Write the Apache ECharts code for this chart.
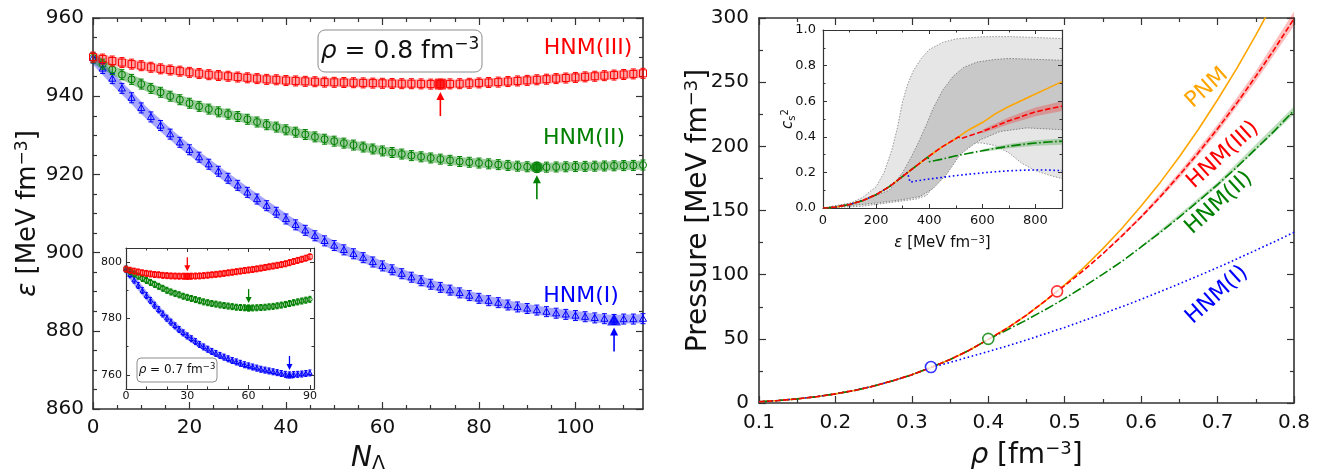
<!DOCTYPE html>
<html><head><meta charset="utf-8">
<script src="https://cdn.jsdelivr.net/npm/echarts@6/dist/echarts.min.js"></script>
<style>html,body{margin:0;padding:0;background:#fff}#c{width:1322px;height:470px}</style>
</head><body><div id="c"></div>
<script>
// ---------------- DATA ----------------
// Left panel, rho = 0.8 fm^-3
const nLambda08 = [0,2,4,6,8,10,12,14,16,18,20,22,24,26,28,30,32,34,36,38,40,42,44,46,48,50,52,54,56,58,60,62,64,66,68,70,72,74,76,78,80,82,84,86,88,90,92,94,96,98,100,102,104,106,108,110,112,114];
const epsHNM3_08 = [950.0,949.5,949.0,948.6,948.2,947.8,947.4,947.0,946.7,946.4,
  946.1,945.8,945.5,945.3,945.1,944.9,944.7,944.5,944.3,944.2,
  944.0,943.9,943.8,943.7,943.6,943.55,943.5,943.45,943.4,943.35,
  943.3,943.25,943.2,943.2,943.15,943.1,943.1,943.15,943.2,943.3,
  943.4,943.5,943.6,943.75,943.9,944.05,944.2,944.35,944.5,944.65,
  944.8,944.95,945.1,945.25,945.4,945.55,945.7,945.85];
const epsHNM2_08 = [949.8,948.2,946.8,945.5,944.3,943.1,942.0,941.0,940.0,939.1,
  938.2,937.4,936.7,936.0,935.4,934.8,934.1,933.4,932.7,932.1,
  931.4,930.8,930.2,929.6,929.0,928.5,928.0,927.5,927.0,926.5,
  926.0,925.6,925.2,924.8,924.5,924.2,923.9,923.6,923.3,923.1,
  922.9,922.7,922.5,922.3,922.1,921.95,921.8,921.85,921.9,921.95,
  922.0,922.05,922.1,922.15,922.2,922.25,922.3,922.4];
const epsHNM1_08 = [949.8,947.1,944.5,942.0,939.6,937.0,
  934.7,932.5,930.3,928.2,926.3,
  924.4,922.6,920.8,919.0,917.2,
  915.4,913.7,912.0,910.3,908.6,
  907.1,905.7,904.3,903.0,901.8,
  900.7,899.7,898.7,897.6,896.6,
  895.6,894.6,893.7,892.8,891.9,
  891.1,890.4,889.7,889.0,888.3,
  887.7,887.2,886.6,886.1,885.7,
  885.3,884.9,884.5,884.2,883.9,
  883.6,883.3,883.1,882.9,883.0,883.0,883.1];
const minHNM3_08 = [72, 943.1];
const minHNM2_08 = [92, 921.8];
const minHNM1_08 = [108, 882.9];

// Left inset, rho = 0.7 fm^-3
const nLambda07 = [0,2,4,6,8,10,12,14,16,18,20,22,24,26,28,30,32,34,36,38,40,42,44,46,48,50,52,54,56,58,60,62,64,66,68,70,72,74,76,78,80,82,84,86,88,90];
const epsHNM3_07 = [797.5,797.1,796.8,796.5,796.2,796.0,795.8,795.6,795.5,795.3,
  795.2,795.1,795.05,795.0,795.0,794.95,795.0,795.05,795.1,795.2,
  795.35,795.5,795.65,795.8,796.0,796.2,796.4,796.6,796.8,797.0,
  797.2,797.4,797.6,797.85,798.1,798.35,798.6,798.85,799.1,799.4,
  799.8,800.2,800.6,801.0,801.4,801.9];
const epsHNM2_07 = [797.5,796.6,795.8,795.0,794.2,793.5,792.8,792.1,791.4,790.7,
  790.0,789.4,788.9,788.4,787.9,787.5,787.1,786.7,786.3,785.9,
  785.6,785.3,785.1,784.8,784.6,784.4,784.2,784.0,783.9,783.8,
  783.7,783.75,783.8,783.9,784.0,784.15,784.3,784.5,784.75,785.0,
  785.3,785.6,785.9,786.2,786.5,786.8];
const epsHNM1_07 = [797.5,795.5,793.6,791.7,789.9,788.1,786.4,784.7,783.1,781.6,
  780.1,778.7,777.4,776.1,774.9,773.8,772.8,771.8,770.8,769.9,
  769.1,768.3,767.6,766.9,766.3,765.7,765.1,764.6,764.1,763.6,
  763.2,762.8,762.4,762.0,761.7,761.4,761.1,760.8,760.5,760.2,
  760.0,760.1,760.2,760.3,760.5,760.7];
const minHNM3_07 = [30, 794.95];
const minHNM2_07 = [60, 783.7];
const minHNM1_07 = [80, 760.0];

// Right panel: pressure vs density
const rho = [0.100,0.125,0.150,0.175,0.200,0.225,0.250,0.275,0.300,0.325,0.350,0.375,0.400,0.425,0.450,0.475,0.490,0.500,0.525,0.550,0.575,0.600,0.625,0.650,0.675,0.700,0.725,0.750,0.775,0.800];
const pPNM  = [1.0,1.9,3.2,4.9,7.1,9.8,13.2,17.3,22.0,27.7,33.9,41.1,49.6,58.4,68.5,79.8,87.0,92.1,105.5,120.3,136.2,153.5,171.9,191.9,213.3,236.3,260.6,286.7,314.0,343.0];
const pHNM3 = [1.0,1.9,3.2,4.9,7.1,9.8,13.2,17.3,22.0,27.7,33.9,41.1,49.6,58.4,68.5,79.8,87.0,91.5,103.5,116.4,130.2,145.0,160.6,177.6,195.1,213.7,233.5,254.5,276.3,299.5];
const pHNM2 = [1.0,1.9,3.2,4.9,7.1,9.8,13.2,17.3,22.0,27.7,33.9,41.1,49.6,57.1,64.7,72.9,78.0,81.5,90.7,100.4,110.4,121.6,132.9,144.8,157.3,170.2,183.7,198.0,212.4,228.0];
const pHNM1 = [1.0,1.9,3.2,4.9,7.1,9.8,13.2,17.3,22.0,27.7,31.6,35.9,40.1,44.5,49.1,54.0,57.0,58.9,64.2,69.6,75.1,80.8,86.8,92.9,99.2,105.5,112.2,119.0,125.9,133.0];
const onsetHNM1 = [0.325, 28];
const onsetHNM2 = [0.40, 50];
const onsetHNM3 = [0.49, 87];
const bandRhoHNM3 = [0.55,0.60,0.65,0.70,0.75,0.80];
const bandLoHNM3  = [116.0,143.5,175.0,210.5,250.5,294.0];
const bandHiHNM3  = [117.0,146.5,180.0,217.0,258.5,305.0];
const bandRhoHNM2 = [0.60,0.70,0.80];
const bandLoHNM2  = [120.8,168.5,225.0];
const bandHiHNM2  = [122.4,172.0,231.0];

// Right inset: speed of sound squared vs energy density
const epsPNMc = [0,20,50,100,150,200,250,300,350,400,450,500,550,600,650,700,750,800,850,900];
const cs2PNM  = [0,0.001,0.006,0.02,0.042,0.075,0.12,0.178,0.235,0.292,0.345,0.39,0.44,0.48,0.53,0.57,0.605,0.64,0.675,0.71];
const epsHNM3c = [0,20,50,100,150,200,250,300,350,400,450,500,510,520,560,600,650,700,750,800,850,900];
const cs2HNM3  = [0,0.001,0.006,0.02,0.042,0.075,0.12,0.178,0.235,0.292,0.345,0.39,0.40,0.39,0.41,0.43,0.46,0.49,0.515,0.54,0.557,0.572];
const epsHNM2c = [0,20,50,100,150,200,250,300,350,395,400,450,500,550,600,650,700,750,800,850,900];
const cs2HNM2  = [0,0.001,0.006,0.02,0.042,0.075,0.12,0.178,0.235,0.287,0.26,0.275,0.293,0.308,0.322,0.335,0.347,0.357,0.365,0.371,0.375];
const epsHNM1c = [0,20,50,100,150,200,250,300,318,328,350,400,450,500,550,600,650,700,750,800,850,900];
const cs2HNM1  = [0,0.001,0.006,0.02,0.042,0.075,0.12,0.178,0.2,0.145,0.152,0.163,0.172,0.182,0.19,0.197,0.204,0.209,0.212,0.214,0.213,0.21];
const csBandEpsHNM3 = [600,700,800,900];
const csBandLoHNM3  = [0.42,0.47,0.515,0.545];
const csBandHiHNM3  = [0.44,0.51,0.565,0.60];
const csBandEpsHNM2 = [600,700,800,900];
const csBandLoHNM2  = [0.315,0.335,0.35,0.355];
const csBandHiHNM2  = [0.33,0.36,0.38,0.39];
// constraint bands (outer = light, inner = dark)
const outerUpEps = [0,100,150,200,230,260,280,300,320,340,370,400,450,500,600,700,800,900];
const outerUpCs2 = [0,0.025,0.06,0.12,0.2,0.33,0.45,0.6,0.7,0.77,0.84,0.89,0.93,0.95,0.962,0.963,0.958,0.952];
const outerLoEps = [0,150,200,250,300,350,390,410,425,440,455,475,500,550,600,650,700,750,800,850,900];
const outerLoCs2 = [0,0.01,0.02,0.03,0.04,0.05,0.07,0.11,0.18,0.27,0.32,0.35,0.36,0.365,0.365,0.35,0.31,0.25,0.21,0.185,0.165];
const innerUpEps = [0,150,200,250,300,330,360,390,415,450,490,530,580,650,700,800,900];
const innerUpCs2 = [0,0.04,0.07,0.1,0.2,0.28,0.37,0.47,0.56,0.66,0.74,0.79,0.82,0.835,0.84,0.835,0.83];
const innerLoEps = [0,150,200,300,365,415,466,516,560,592,667,768,900];
const innerLoCs2 = [0,0.02,0.028,0.047,0.065,0.11,0.19,0.3,0.35,0.383,0.43,0.45,0.44];

// Tick values
const ticksXMain = [0,20,40,60,80,100];
const ticksYMain = [860,880,900,920,940,960];
const ticksXIn07 = [0,30,60,90];
const ticksYIn07 = [760,780,800];
const ticksRho = [0.1,0.2,0.3,0.4,0.5,0.6,0.7,0.8];
const ticksP = [0,50,100,150,200,250,300];
const ticksEps = [0,200,400,600,800];
const ticksCs2 = [0,0.2,0.4,0.6,0.8,1.0];

// ---------------- HELPERS ----------------
const FONT = 'DejaVu Sans';
const AX = '#333333';
const TXT = '#111111';
const RED = '#ff0000', GREEN = '#008000', BLUE = '#0000ff', ORANGE = '#ffa500';
function zip(xs, ys) { return xs.map((x, i) => [x, ys[i]]); }
function minorBetween(min, max, step, majors) {
  const out = []; const n = Math.round((max - min) / step);
  for (let i = 0; i <= n; i++) { const v = +(min + i * step).toFixed(6); if (!majors.some(m => Math.abs(m - v) < 1e-9)) out.push(v); }
  return out;
}
const xAxes = [], yAxes = [];
function addAxes(g, xc, yc, st) {
  ['x', 'y'].forEach(dim => {
    const c = dim === 'x' ? xc : yc;
    const sides = dim === 'x' ? ['bottom', 'top'] : ['left', 'right'];
    sides.forEach((pos, si) => {
      [true, false].forEach(isMajor => {
        const labeled = si === 0 && isMajor;
        const ax = {
          type: 'value', gridIndex: g, min: c.min, max: c.max, position: pos, z: st.z,
          axisLine: { show: isMajor, onZero: false, lineStyle: { color: AX, width: st.lw } },
          axisTick: { show: true, inside: true, length: isMajor ? st.tl : st.tm, customValues: isMajor ? c.major : c.minor, lineStyle: { color: AX, width: st.tw } },
          axisLabel: { show: labeled, customValues: c.major, formatter: c.fmt, fontSize: st.fs, fontFamily: FONT, color: TXT, margin: c.margin, hideOverlap: false },
          splitLine: { show: false }, minorTick: { show: false }, axisPointer: { show: false }, silent: true
        };
        if (labeled && c.name) Object.assign(ax, { name: c.name, nameLocation: 'middle', nameGap: c.nameGap, nameMoveOverlap: false, nameTextStyle: c.nameStyle });
        (dim === 'x' ? xAxes : yAxes).push(ax);
      });
    });
  });
}
function supStyle(fs, sfs, raise) {
  return { fontSize: fs, fontFamily: FONT, color: TXT,
    rich: { i: { fontSize: fs, fontFamily: FONT, fontStyle: 'italic', color: TXT },
            s: { fontSize: sfs, fontFamily: FONT, color: TXT, padding: [0, 0, raise, 0] },
            b: { fontSize: sfs, fontFamily: FONT, color: TXT, padding: [raise, 0, 0, 0] } } };
}

// grid 0: left main
addAxes(0,
  { min: 0, max: 114, major: ticksXMain, minor: minorBetween(0, 110, 5, ticksXMain), margin: 9,
    name: '{i|N}{b|Λ}', nameGap: 34, nameStyle: supStyle(28, 19, 12) },
  { min: 860, max: 960, major: ticksYMain, minor: minorBetween(860, 960, 5, ticksYMain), margin: 9,
    name: '{i|ε} [MeV fm{s|−3}]', nameGap: 50, nameStyle: supStyle(26, 17, 12) },
  { z: 1, lw: 1.6, tw: 1.2, tl: 7, tm: 4, fs: 20 });
// grid 1: left inset
addAxes(1,
  { min: 0, max: 92, major: ticksXIn07, minor: minorBetween(0, 90, 10, ticksXIn07), margin: 2 },
  { min: 755, max: 805, major: ticksYIn07, minor: minorBetween(760, 800, 10, ticksYIn07), margin: 4 },
  { z: 12, lw: 1.2, tw: 1, tl: 4, tm: 2.5, fs: 11 });
// grid 2: right main
addAxes(2,
  { min: 0.1, max: 0.8, major: ticksRho, minor: minorBetween(0.1, 0.8, 0.05, ticksRho), margin: 10, fmt: v => v.toFixed(1),
    name: '{i|ρ} [fm{s|−3}]', nameGap: 37, nameStyle: supStyle(28, 18, 13) },
  { min: 0, max: 300, major: ticksP, minor: minorBetween(0, 300, 25, ticksP), margin: 10,
    name: 'Pressure [MeV fm{s|−3}]', nameGap: 45, nameStyle: supStyle(28, 18, 13) },
  { z: 1, lw: 1.6, tw: 1.2, tl: 7, tm: 4, fs: 20 });
// grid 3: right inset
addAxes(3,
  { min: 0, max: 900, major: ticksEps, minor: minorBetween(0, 900, 100, ticksEps), margin: 6,
    name: '{i|ε} [MeV fm{s|−3}]', nameGap: 27, nameStyle: supStyle(15, 10, 7) },
  { min: 0, max: 1, major: ticksCs2, minor: minorBetween(0, 1, 0.1, ticksCs2), margin: 7, fmt: v => v.toFixed(1),
    name: '{i|c}{b|s}{s|2}', nameGap: 26, nameStyle: supStyle(15, 10, 7) },
  { z: 12, lw: 1.2, tw: 1, tl: 4, tm: 2.5, fs: 13 });

function markerRenderer(shape, color, size, err, cap) {
  return function (params, api) {
    const p = api.coord([api.value(0), api.value(1)]);
    const h = size / 2;
    const st = { stroke: color, fill: 'none', lineWidth: 1 };
    const kids = [
      { type: 'line', shape: { x1: p[0], y1: p[1] - err, x2: p[0], y2: p[1] + err }, style: st },
      { type: 'line', shape: { x1: p[0] - cap, y1: p[1] - err, x2: p[0] + cap, y2: p[1] - err }, style: st },
      { type: 'line', shape: { x1: p[0] - cap, y1: p[1] + err, x2: p[0] + cap, y2: p[1] + err }, style: st }
    ];
    if (shape === 'rect') kids.push({ type: 'rect', shape: { x: p[0] - h, y: p[1] - h, width: size, height: size }, style: st });
    else if (shape === 'circle') kids.push({ type: 'circle', shape: { cx: p[0], cy: p[1], r: h }, style: st });
    else kids.push({ type: 'polygon', shape: { points: [[p[0], p[1] - h], [p[0] + h, p[1] + h * 0.75], [p[0] - h, p[1] + h * 0.75]] }, style: st });
    return { type: 'group', children: kids };
  };
}
function arrowRenderer(color, dir, gap, len, head, hw, lw) {
  return function (params, api) {
    const p = api.coord([api.value(0), api.value(1)]);
    const tip = p[1] + dir * gap;
    return { type: 'group', children: [
      { type: 'line', shape: { x1: p[0], y1: tip + dir * head * 0.8, x2: p[0], y2: tip + dir * len }, style: { stroke: color, lineWidth: lw } },
      { type: 'polygon', shape: { points: [[p[0], tip], [p[0] - hw / 2, tip + dir * head], [p[0] + hw / 2, tip + dir * head]] }, style: { fill: color } }
    ] };
  };
}
function bandRenderer(upX, upY, loX, loY, fill, edge) {
  return function (params, api) {
    const up = upX.map((x, i) => api.coord([x, upY[i]]));
    const lo = loX.map((x, i) => api.coord([x, loY[i]]));
    const kids = [{ type: 'polygon', shape: { points: up.concat(lo.slice().reverse()) }, style: { fill: fill } }];
    if (edge) {
      kids.push({ type: 'polyline', shape: { points: up }, style: { stroke: edge, fill: 'none', lineWidth: 0.9, lineDash: [1.5, 1.5] } });
      kids.push({ type: 'polyline', shape: { points: lo }, style: { stroke: edge, fill: 'none', lineWidth: 0.9, lineDash: [1.5, 1.5] } });
    }
    return { type: 'group', children: kids };
  };
}

const series = [];
function leftSet(xi, xs, ys, mn, color, band, shape, ms, err, cap, bandW, fillSize, arrow, zb) {
  series.push({ type: 'line', xAxisIndex: xi, yAxisIndex: xi, data: zip(xs, ys), showSymbol: false, symbol: 'none',
    lineStyle: { color: band, width: bandW }, z: zb, silent: true });
  series.push({ type: 'custom', xAxisIndex: xi, yAxisIndex: xi, data: zip(xs, ys), encode: { x: 0, y: 1 },
    renderItem: markerRenderer(shape, color, ms, err, cap), z: zb + 1, silent: true });
  series.push({ type: 'scatter', xAxisIndex: xi, yAxisIndex: xi, data: [mn], symbol: shape === 'tri' ? 'triangle' : shape,
    symbolSize: fillSize, itemStyle: { color: color }, z: zb + 2, silent: true });
  series.push({ type: 'custom', xAxisIndex: xi, yAxisIndex: xi, data: [mn], encode: { x: 0, y: 1 },
    renderItem: arrowRenderer(color, arrow.dir, arrow.gap, arrow.len, arrow.head, arrow.hw, arrow.lw), z: zb + 2, silent: true });
}
const arrMain = { dir: 1, gap: 8, len: 24, head: 8, hw: 8, lw: 1.6 };
const arrIn = { dir: -1, gap: 5, len: 14, head: 6, hw: 6, lw: 1.3 };
leftSet(0, nLambda08, epsHNM1_08, minHNM1_08, BLUE, 'rgba(0,0,255,0.35)', 'tri', 7, 5, 2.5, 9, [14, 12], arrMain, 2);
leftSet(0, nLambda08, epsHNM2_08, minHNM2_08, GREEN, 'rgba(0,128,0,0.4)', 'circle', 7, 5, 2.5, 9, 12, arrMain, 2);
leftSet(0, nLambda08, epsHNM3_08, minHNM3_08, RED, 'rgba(255,0,0,0.35)', 'rect', 7, 5, 2.5, 9, 11, arrMain, 2);
leftSet(4, nLambda07, epsHNM1_07, minHNM1_07, BLUE, 'rgba(0,0,255,0.35)', 'tri', 4.5, 3, 1.5, 6, [8, 7], arrIn, 13);
leftSet(4, nLambda07, epsHNM2_07, minHNM2_07, GREEN, 'rgba(0,128,0,0.4)', 'circle', 4.5, 3, 1.5, 6, 7, arrIn, 13);
leftSet(4, nLambda07, epsHNM3_07, minHNM3_07, RED, 'rgba(255,0,0,0.35)', 'rect', 4.5, 3, 1.5, 6, 7, arrIn, 13);

// right main
function bandSeries(xi, ex, lo, hi, fill, z) {
  series.push({ type: 'custom', xAxisIndex: xi, yAxisIndex: xi, data: [[ex[0], lo[0]]], encode: { x: 0, y: 1 },
    renderItem: bandRenderer(ex, hi, ex, lo, fill, null), z: z, silent: true });
}
bandSeries(8, bandRhoHNM3, bandLoHNM3, bandHiHNM3, 'rgba(255,0,0,0.25)', 2);
bandSeries(8, bandRhoHNM2, bandLoHNM2, bandHiHNM2, 'rgba(0,128,0,0.25)', 2);
function curve(xi, xs, ys, color, type, z) {
  series.push({ type: 'line', xAxisIndex: xi, yAxisIndex: xi, data: zip(xs, ys), showSymbol: false, symbol: 'none',
    lineStyle: { color: color, width: 1.6, type: type }, z: z, silent: true });
}
curve(8, rho, pPNM, ORANGE, 'solid', 3);
curve(8, rho, pHNM1, BLUE, [1.6, 2.6], 3);
curve(8, rho, pHNM2, GREEN, [9.6, 2.4, 1.6, 2.4], 3);
curve(8, rho, pHNM3, RED, [5.6, 2.4], 3);
[[onsetHNM1, BLUE], [onsetHNM2, GREEN], [onsetHNM3, RED]].forEach(([pt, c]) => {
  series.push({ type: 'scatter', xAxisIndex: 8, yAxisIndex: 8, data: [pt], symbol: 'circle', symbolSize: 11,
    itemStyle: { color: '#fff', borderColor: c, borderWidth: 1.6 }, z: 5, silent: true });
});

// right inset
series.push({ type: 'custom', xAxisIndex: 12, yAxisIndex: 12, data: [[0, 0]], encode: { x: 0, y: 1 },
  renderItem: bandRenderer(outerUpEps, outerUpCs2, outerLoEps, outerLoCs2, '#e6e6e6', '#8c8c8c'), z: 11, silent: true });
series.push({ type: 'custom', xAxisIndex: 12, yAxisIndex: 12, data: [[0, 0]], encode: { x: 0, y: 1 },
  renderItem: bandRenderer(innerUpEps, innerUpCs2, innerLoEps, innerLoCs2, '#c8c8c8', '#7a7a7a'), z: 11.5, silent: true });
bandSeries(12, csBandEpsHNM3, csBandLoHNM3, csBandHiHNM3, 'rgba(255,0,0,0.25)', 12);
bandSeries(12, csBandEpsHNM2, csBandLoHNM2, csBandHiHNM2, 'rgba(0,128,0,0.25)', 12);
curve(12, epsPNMc, cs2PNM, ORANGE, 'solid', 13);
curve(12, epsHNM1c, cs2HNM1, BLUE, [1.6, 2.6], 13);
curve(12, epsHNM2c, cs2HNM2, GREEN, [9.6, 2.4, 1.6, 2.4], 13);
curve(12, epsHNM3c, cs2HNM3, RED, [5.6, 2.4], 13);

// ---------------- ANNOTATIONS ----------------
function txt(x, y, text, color, fs, rot, extra) {
  return Object.assign({ type: 'text', x: x, y: y, rotation: (rot || 0) * Math.PI / 180, z: 30, silent: true,
    style: { text: text, fill: color, fontSize: fs, fontFamily: FONT, textAlign: 'center', textVerticalAlign: 'middle' } }, extra || {});
}
const graphic = [
  { type: 'rect', shape: { x: 318, y: 30, width: 164, height: 42, r: 7 }, style: { fill: '#fff', stroke: '#8c8c8c', lineWidth: 1 }, z: 30, silent: true },
  { type: 'text', x: 400, y: 51, z: 31, silent: true, style: { text: '{i|ρ} = 0.8 fm{s|−3}', fill: TXT, fontSize: 25, fontFamily: FONT,
      textAlign: 'center', textVerticalAlign: 'middle',
      rich: { i: { fontSize: 25, fontStyle: 'italic', fontFamily: FONT, fill: TXT }, s: { fontSize: 17, fontFamily: FONT, fill: TXT, padding: [0, 0, 12, 0] } } } },
  { type: 'rect', shape: { x: 137, y: 358, width: 80, height: 24, r: 4 }, style: { fill: '#fff', stroke: '#8c8c8c', lineWidth: 1 }, z: 30, silent: true },
  { type: 'text', x: 177, y: 370, z: 31, silent: true, style: { text: '{i|ρ} = 0.7 fm{s|−3}', fill: TXT, fontSize: 12, fontFamily: FONT,
      textAlign: 'center', textVerticalAlign: 'middle',
      rich: { i: { fontSize: 12, fontStyle: 'italic', fontFamily: FONT, fill: TXT }, s: { fontSize: 8.5, fontFamily: FONT, fill: TXT, padding: [0, 0, 6, 0] } } } },
  txt(588, 48, 'HNM(III)', RED, 22),
  txt(584, 138, 'HNM(II)', GREEN, 22),
  txt(581, 296, 'HNM(I)', BLUE, 22),
  txt(1207, 88, 'PNM', ORANGE, 22, 42),
  txt(1223, 155, 'HNM(III)', RED, 22, 42),
  txt(1219, 203, 'HNM(II)', GREEN, 22, 42),
  txt(1217, 295, 'HNM(I)', BLUE, 22, 42)
];

const option = {
  animation: false,
  backgroundColor: '#fff',
  grid: [
    { left: 93, top: 18, width: 550, height: 391, outerBoundsMode: 'none', containLabel: false },
    { left: 126, top: 248, width: 188, height: 141, show: true, backgroundColor: '#fff', borderWidth: 0, z: 10, outerBoundsMode: 'none', containLabel: false },
    { left: 759, top: 18, width: 535, height: 385, outerBoundsMode: 'none', containLabel: false },
    { left: 823, top: 30, width: 239, height: 178, show: true, backgroundColor: '#fff', borderWidth: 0, z: 10, outerBoundsMode: 'none', containLabel: false }
  ],
  xAxis: xAxes, yAxis: yAxes, series: series, graphic: graphic
};
const chart = echarts.init(document.getElementById('c'), null, { renderer: 'canvas' });
chart.setOption(option);
</script></body></html>
